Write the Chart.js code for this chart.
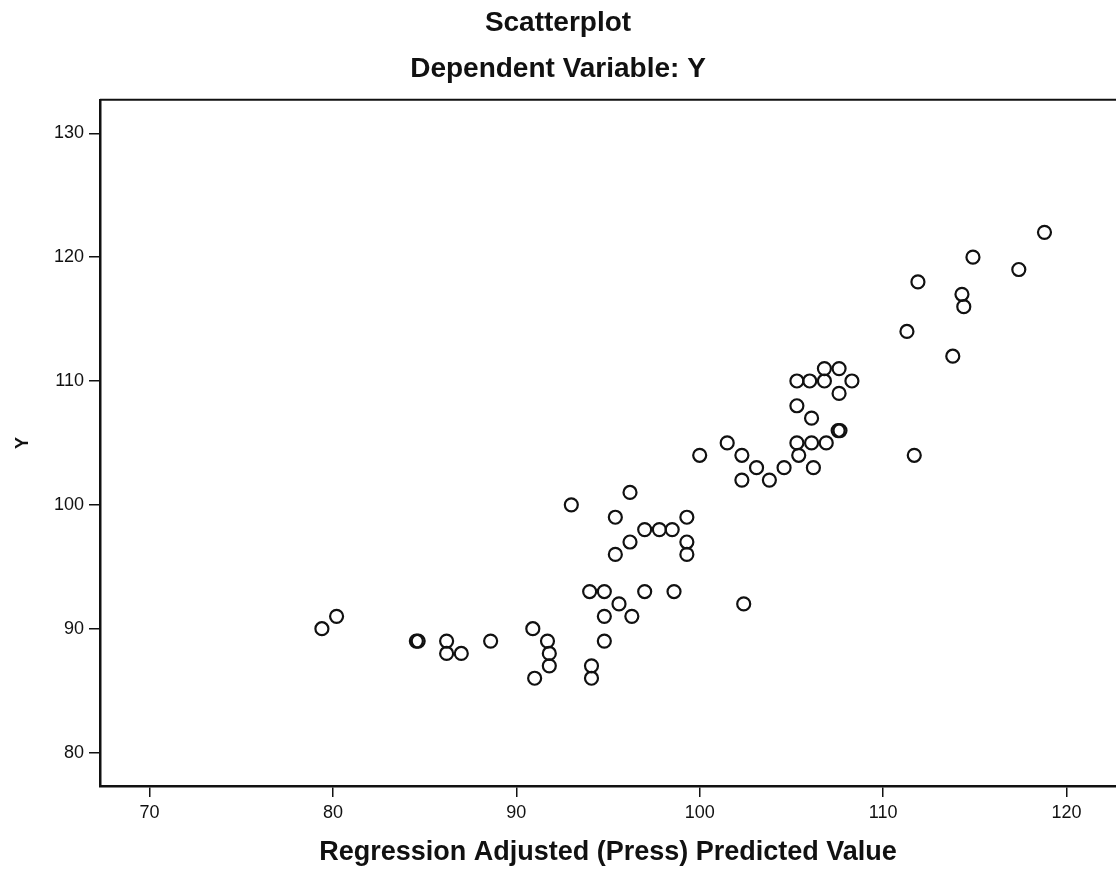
<!DOCTYPE html>
<html>
<head>
<meta charset="utf-8">
<title>Scatterplot</title>
<script src="https://cdn.jsdelivr.net/npm/chart.js@4/dist/chart.umd.min.js"></script>
<style>
  html, body { margin: 0; padding: 0; background: #fff; }
  #wrap { width: 1116px; height: 876px; }
</style>
</head>
<body>
<div id="wrap"><canvas id="scatterChart" width="1116" height="876"></canvas></div>
<script>
const inkColor = '#111';
const fontFamily = '"Liberation Sans", Arial, sans-serif';

// tick labels
const xTicks = [70, 80, 90, 100, 110, 120];
const yTicks = [80, 90, 100, 110, 120, 130];

// Regression Adjusted (Press) Predicted Value
const predicted = [
  79.4, 80.2, 84.55, 84.65, 86.2, 86.2, 87.0, 88.6, 90.9, 91.7,
  91.8, 91.8, 91.0, 94.0, 94.1, 94.1, 94.8, 97.0, 98.6, 95.6,
  94.8, 96.3, 102.4, 94.8, 93.0, 96.2, 95.4, 99.3, 97.0, 97.8,
  98.5, 96.2, 99.3, 95.4, 99.3, 100.0, 101.5, 102.3, 103.1, 102.3,
  103.8, 104.6, 106.2, 105.4, 105.3, 106.1, 106.9, 107.55, 107.65, 106.1,
  105.3, 107.6, 105.3, 106.0, 106.8, 108.3, 106.8, 107.6, 111.7, 113.8,
  111.3, 114.4, 114.3, 111.9, 117.4, 114.9, 118.8
];
// Y
const observed = [
  90, 91, 89, 89, 89, 88, 88, 89, 90, 89,
  88, 87, 86, 93, 87, 86, 93, 93, 93, 92,
  91, 91, 92, 89, 100, 101, 99, 99, 98, 98,
  98, 97, 97, 96, 96, 104, 105, 104, 103, 102,
  102, 103, 103, 104, 105, 105, 105, 106, 106, 107,
  108, 109, 110, 110, 110, 110, 111, 111, 104, 112,
  114, 116, 117, 118, 119, 120, 122
];

// top edge of the plot frame
const frameTop = {
  id: 'frameTop',
  afterDraw(chart) {
    const { ctx, chartArea } = chart;
    ctx.save();
    ctx.strokeStyle = inkColor;
    ctx.lineWidth = 2;
    ctx.beginPath();
    ctx.moveTo(chartArea.left, chartArea.top);
    ctx.lineTo(chartArea.right, chartArea.top);
    ctx.stroke();
    ctx.restore();
  }
};

const ctx = document.getElementById('scatterChart').getContext('2d');
new Chart(ctx, {
  type: 'scatter',
  data: {
    datasets: [{
      label: 'Y',
      data: predicted.map((x, i) => ({ x: x, y: observed[i] })),
      pointRadius: 6.5,
      pointHoverRadius: 6.5,
      borderWidth: 2.2,
      borderColor: inkColor,
      backgroundColor: 'rgba(0,0,0,0)'
    }]
  },
  options: {
    responsive: false,
    animation: false,
    layout: { padding: 0, autoPadding: false },
    plugins: {
      legend: { display: false },
      tooltip: { enabled: false },
      title: {
        display: true,
        text: ['Scatterplot', 'Dependent Variable: Y'],
        color: inkColor,
        font: { family: fontFamily, size: 28, weight: 'bold', lineHeight: 1.64 },
        padding: { top: 0, bottom: 8 }
      }
    },
    scales: {
      x: {
        type: 'linear',
        min: 67.3,
        max: 122.7,
        afterBuildTicks: axis => { axis.ticks = xTicks.map(v => ({ value: v })); },
        afterFit: axis => {
          axis.height = 90;
          axis.paddingLeft = 0;
          axis.paddingRight = 0;
        },
        ticks: {
          color: inkColor,
          padding: 5,
          font: { family: fontFamily, size: 18 }
        },
        grid: {
          drawOnChartArea: false,
          drawTicks: true,
          tickLength: 11,
          color: inkColor,
          lineWidth: 1.5
        },
        border: { display: true, color: inkColor, width: 2.5 },
        title: {
          display: true,
          text: 'Regression Adjusted (Press) Predicted Value',
          color: inkColor,
          font: { family: fontFamily, size: 27, weight: 'bold' },
          padding: 7
        }
      },
      y: {
        type: 'linear',
        min: 77.3,
        max: 132.7,
        afterBuildTicks: axis => { axis.ticks = yTicks.map(v => ({ value: v })); },
        afterFit: axis => {
          axis.width = 100;
          axis.paddingTop = 0;
          axis.paddingBottom = 0;
        },
        ticks: {
          color: inkColor,
          padding: 5,
          font: { family: fontFamily, size: 18 }
        },
        grid: {
          drawOnChartArea: false,
          drawTicks: true,
          tickLength: 11,
          color: inkColor,
          lineWidth: 1.5
        },
        border: { display: true, color: inkColor, width: 2.5 },
        title: {
          display: true,
          text: 'Y',
          color: inkColor,
          font: { family: fontFamily, size: 18, weight: 'bold' },
          padding: 12
        }
      }
    }
  },
  plugins: [frameTop]
});
</script>
</body>
</html>
